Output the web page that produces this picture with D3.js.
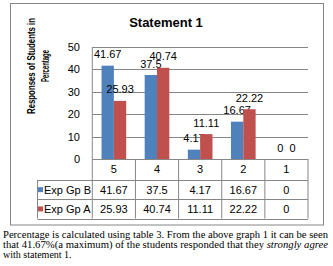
<!DOCTYPE html>
<html>
<head>
<meta charset="utf-8">
<script src="https://cdn.jsdelivr.net/npm/d3@7"></script>
<style>
  body { margin: 0; background: #fff; }
  svg { display: block; }
  text { font-family: "Liberation Sans", Arial, sans-serif; fill: #000; }
  .ytitle { font-family: "Liberation Sans Narrow", "Arial Narrow", "Liberation Sans", sans-serif; font-weight: bold; font-size: 11px; }
  .caption { font-family: "Liberation Serif", "Times New Roman", serif; font-size: 10px; }
</style>
</head>
<body>
<svg id="chart" width="333" height="266"></svg>
<script>
// chart data
var categories = ["5", "4", "3", "2", "1"];
var seriesNames = ["Exp Gp B", "Exp Gp A"];
var expGpB = [41.67, 37.5, 4.17, 16.67, 0];
var expGpA = [25.93, 40.74, 11.11, 22.22, 0];
var yTicks = [0, 10, 20, 30, 40, 50];
var seriesColors = ["#4F81BD", "#C0504D"];

var title = "Statement 1";
var yTitle = ["Responses of Students in", "Percentage"];
var captionLines = [
  "Percentage is calculated using table 3. From the above graph 1  it can be seen",
  "that 41.67%(a maximum) of the students responded that they ",
  "with statement 1."
];
var captionItalic = "strongly agree";

var series = seriesNames.map(function(name, i){
  return { name: name, values: i === 0 ? expGpB : expGpA, color: seriesColors[i] };
});

var svg = d3.select("#chart");
var grid = "#868686";

var plotLeft = 92.3, plotRight = 308, plotTop = 47, plotBottom = 159;
var legendLeft = 37.5;
var rowLines = [180, 199.3, 218.5];

var x = d3.scaleBand()
    .domain(categories)
    .range([plotLeft, plotRight]);

var x1 = d3.scaleBand()
    .domain(seriesNames)
    .range([0, x.bandwidth()])
    .paddingOuter(0.75);

var y = d3.scaleLinear()
    .domain([0, 50])
    .range([plotBottom, plotTop]);

// outer frame
svg.append("rect")
  .attr("x", 10.5).attr("y", 3.5)
  .attr("width", 313).attr("height", 221.5)
  .attr("fill", "#fff")
  .attr("stroke", grid);

// title
svg.append("text")
  .attr("x", 166).attr("y", 26.5)
  .attr("text-anchor", "middle")
  .style("font-size", "13px")
  .style("font-weight", "bold")
  .text(title);

// y axis title
svg.append("g")
  .attr("transform", "translate(0,66) rotate(-90)")
  .selectAll("text")
  .data(yTitle)
  .enter().append("text")
    .attr("class", "ytitle")
    .attr("x", 0)
    .attr("y", function(d, i){ return i === 0 ? 34.5 : 48.5; })
    .attr("text-anchor", "middle")
    .attr("textLength", function(d, i){ return i === 0 ? 96 : 32; })
    .attr("lengthAdjust", "spacingAndGlyphs")
    .text(function(d){ return d; });

// gridlines + tick labels
svg.append("g")
  .selectAll("line")
  .data(yTicks)
  .enter().append("line")
    .attr("x1", plotLeft).attr("x2", plotRight)
    .attr("y1", function(d){ return Math.round(y(d)) + 0.5; })
    .attr("y2", function(d){ return Math.round(y(d)) + 0.5; })
    .attr("stroke", grid);

svg.append("g")
  .selectAll("text")
  .data(yTicks)
  .enter().append("text")
    .attr("x", 80)
    .attr("y", function(d){ return y(d); })
    .attr("dy", "0.36em")
    .attr("text-anchor", "end")
    .style("font-size", "11px")
    .text(function(d){ return d; });

// bars
var groups = svg.append("g")
  .selectAll("g")
  .data(series)
  .enter().append("g")
    .attr("fill", function(d){ return d.color; });

groups.selectAll("rect")
  .data(function(s){
    return s.values.map(function(v, i){ return { name: s.name, cat: categories[i], value: v }; });
  })
  .enter().append("rect")
    .attr("x", function(d){ return x(d.cat) + x1(d.name); })
    .attr("y", function(d){ return y(d.value); })
    .attr("width", x1.bandwidth())
    .attr("height", function(d){ return y(0) - y(d.value); });

// data labels
groups.selectAll("text")
  .data(function(s){
    return s.values.map(function(v, i){ return { name: s.name, cat: categories[i], value: v }; });
  })
  .enter().append("text")
    .attr("x", function(d){ return x(d.cat) + x1(d.name) + x1.bandwidth() / 2; })
    .attr("y", function(d){ return y(d.value) - 7.5; })
    .attr("text-anchor", "middle")
    .style("font-size", "11px")
    .text(function(d){ return d.value; });

// data table lines
var table = svg.append("g").attr("stroke", grid);

table.append("line")
  .attr("x1", plotLeft).attr("x2", plotRight)
  .attr("y1", plotBottom + 0.5).attr("y2", plotBottom + 0.5);

table.selectAll(".row")
  .data(rowLines)
  .enter().append("line")
    .attr("class", "row")
    .attr("x1", legendLeft).attr("x2", plotRight)
    .attr("y1", function(d){ return Math.round(d) + 0.5; })
    .attr("y2", function(d){ return Math.round(d) + 0.5; });

table.append("line")
  .attr("x1", legendLeft).attr("x2", legendLeft)
  .attr("y1", rowLines[0]).attr("y2", rowLines[2]);

table.append("line")
  .attr("x1", plotLeft).attr("x2", plotLeft)
  .attr("y1", plotTop).attr("y2", rowLines[2]);

table.selectAll(".col")
  .data(categories)
  .enter().append("line")
    .attr("class", "col")
    .attr("x1", function(d){ return x(d) + x.bandwidth(); })
    .attr("x2", function(d){ return x(d) + x.bandwidth(); })
    .attr("y1", plotBottom).attr("y2", rowLines[2]);

// category row
svg.append("g")
  .selectAll("text")
  .data(categories)
  .enter().append("text")
    .attr("x", function(d){ return x(d) + x.bandwidth() / 2; })
    .attr("y", (plotBottom + rowLines[0]) / 2)
    .attr("dy", "0.36em")
    .attr("text-anchor", "middle")
    .style("font-size", "11px")
    .text(function(d){ return d; });

// value rows with legend keys
var rows = svg.append("g")
  .selectAll("g")
  .data(series)
  .enter().append("g")
    .attr("transform", function(d, i){
      return "translate(0," + ((rowLines[i] + rowLines[i + 1]) / 2) + ")";
    });

rows.append("rect")
  .attr("x", 38).attr("y", -2.5)
  .attr("width", 5).attr("height", 5)
  .attr("fill", function(d){ return d.color; });

rows.append("text")
  .attr("x", 44)
  .attr("dy", "0.36em")
  .style("font-size", "11px")
  .text(function(d){ return d.name; });

rows.selectAll(".val")
  .data(function(s){
    return s.values.map(function(v, i){ return { cat: categories[i], value: v }; });
  })
  .enter().append("text")
    .attr("class", "val")
    .attr("x", function(d){ return x(d.cat) + x.bandwidth() / 2; })
    .attr("dy", "0.36em")
    .attr("text-anchor", "middle")
    .style("font-size", "11px")
    .text(function(d){ return d.value; });

// caption below the chart
var cap = svg.append("g").attr("class", "caption");

cap.append("text")
  .attr("class", "caption")
  .attr("x", 3).attr("y", 237.5)
  .attr("textLength", 325)
  .attr("lengthAdjust", "spacingAndGlyphs")
  .text(captionLines[0]);

var line2 = cap.append("text")
  .attr("class", "caption")
  .attr("x", 3).attr("y", 248)
  .attr("textLength", 325)
  .attr("lengthAdjust", "spacingAndGlyphs");
line2.append("tspan").text(captionLines[1]);
line2.append("tspan").style("font-style", "italic").text(captionItalic);

cap.append("text")
  .attr("class", "caption")
  .attr("x", 3).attr("y", 258)
  .text(captionLines[2]);
</script>
</body>
</html>
